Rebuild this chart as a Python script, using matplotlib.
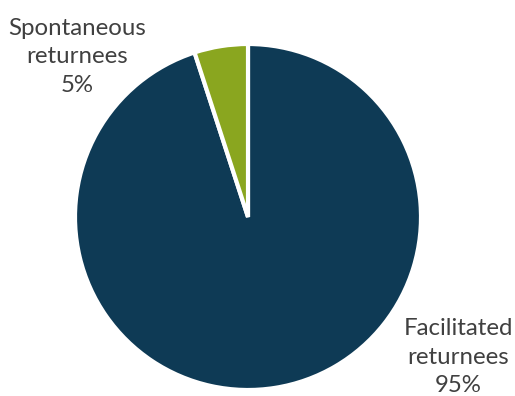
import matplotlib.pyplot as plt

labels = ["Facilitated\nreturnees\n95%", "Spontaneous\nreturnees\n5%"]
values = [95, 5]
colors = ['#0e3a55', '#8aa61f']

plt.rcParams['font.family'] = ['Lato', 'DejaVu Sans']

fig = plt.figure(figsize=(5.15, 3.96), dpi=100)
ax = fig.add_axes([75/515, 6/396, 346/515, 346/396])

ax.pie(values, colors=colors, startangle=90, counterclock=False, radius=1,
       wedgeprops=dict(edgecolor='white', linewidth=3))
ax.set_xlim(-1, 1)
ax.set_ylim(-1, 1)
ax.set_aspect('equal')
ax.axis('off')

ax.text(-0.985, 0.925, labels[1], ha='center', va='center', fontsize=17.3,
        color='#404040', linespacing=1.45, clip_on=False)
ax.text(1.215, -0.81, labels[0], ha='center', va='center', fontsize=17.3,
        color='#404040', linespacing=1.45, clip_on=False)

fig.savefig('out.png', dpi=100)
